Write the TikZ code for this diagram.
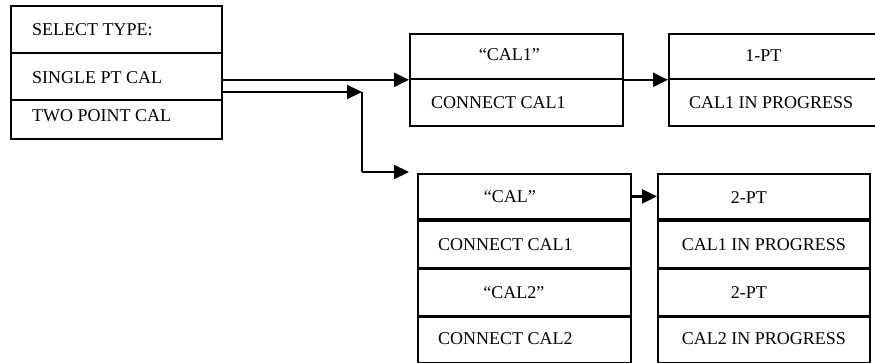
\documentclass[tikz,border=0pt]{standalone}
\usepackage{fontspec}
\setmainfont{Liberation Serif}
\usetikzlibrary{arrows.meta}
\begin{document}
\begin{tikzpicture}[x=1pt,y=-1pt,
  cell/.style={draw, line width=1.8pt, anchor=north west, inner sep=0pt, minimum width=#1},
  txt/.style={inner sep=0pt, text height=11.9pt, text depth=0pt, font=\fontsize{18}{20}\selectfont},
  arr/.style={line width=2.2pt, -{Triangle[length=15pt,width=14pt]}},
  ln/.style={line width=2.2pt}]
\useasboundingbox[fill=white] (0,0) rectangle (875,362);
% left box
\node[cell=211pt, minimum height=47pt] (L1) at (10,5) {};
\node[cell=211pt, minimum height=47pt] (L2) at (10,52) {};
\node[cell=211pt, minimum height=39pt] (L3) at (10,99) {};
\node[txt, anchor=west] (tL1) at ([xshift=22pt]L1.west) {SELECT TYPE:};
\node[txt, anchor=west] (tL2) at ([xshift=22pt,yshift=-1.5pt]L2.west) {SINGLE PT CAL};
\node[txt, anchor=west] (tL3) at ([xshift=22pt,yshift=4pt]L3.west) {TWO POINT CAL};
% top middle box
\node[cell=213pt, minimum height=45pt] (M1) at (409,33) {};
\node[cell=213pt, minimum height=47pt] (M2) at (409,78) {};
\node[txt] (tM1) at ([xshift=-7pt,yshift=1.5pt]M1.center) {“CAL1”};
\node[txt, anchor=west] (tM2) at ([xshift=22pt]M2.west) {CONNECT CAL1};
% top right box (runs past the right edge)
\node[cell=213pt, minimum height=45pt] (R1) at (668,33) {};
\node[cell=213pt, minimum height=47pt] (R2) at (668,78) {};
\node[txt] (tR1) at ([xshift=-12pt,yshift=0.5pt]R1.center) {1-PT};
\node[txt, anchor=west] (tR2) at ([xshift=21pt]R2.west) {CAL1 IN PROGRESS};
% bottom left box
\node[cell=213pt, minimum height=45pt] (B1) at (417,173) {};
\node[cell=213pt, minimum height=47pt] (B2) at (417,220) {};
\node[cell=213pt, minimum height=47pt] (B3) at (417,268) {};
\node[cell=213pt, minimum height=46pt] (B4) at (417,316) {};
\node[txt] (tB1) at ([xshift=-14.5pt]B1.center) {“CAL”};
\node[txt, anchor=west] (tB2) at ([xshift=21pt]B2.west) {CONNECT CAL1};
\node[txt] (tB3) at ([xshift=-10.5pt]B3.center) {“CAL2”};
\node[txt, anchor=west] (tB4) at ([xshift=21pt,yshift=1pt]B4.west) {CONNECT CAL2};
% bottom right box
\node[cell=212pt, minimum height=45pt] (C1) at (657,173) {};
\node[cell=212pt, minimum height=47pt] (C2) at (657,220) {};
\node[cell=212pt, minimum height=47pt] (C3) at (657,268) {};
\node[cell=212pt, minimum height=46pt] (C4) at (657,316) {};
\node[txt] (tC1) at ([xshift=-15pt,yshift=-1pt]C1.center) {2-PT};
\node[txt] (tC2) at (C2.center) {CAL1 IN PROGRESS};
\node[txt] (tC3) at ([xshift=-15pt]C3.center) {2-PT};
\node[txt] (tC4) at ([yshift=1pt]C4.center) {CAL2 IN PROGRESS};
% connectors
\coordinate (j) at (362,92);
\coordinate (k) at ([xshift=-8pt,yshift=1pt]B1.north west);
\draw[arr] (L2.east |- M1.south west) -- (M1.south west);
\draw[arr] (L2.east |- j) -- (j);
\draw[ln] (j) -- (j |- k);
\draw[arr] (j |- k) -- (k);
\draw[arr] (M1.south east) -- (R1.south west);
\draw[arr] (B1.east) -- (C1.west);
\end{tikzpicture}
\end{document}
